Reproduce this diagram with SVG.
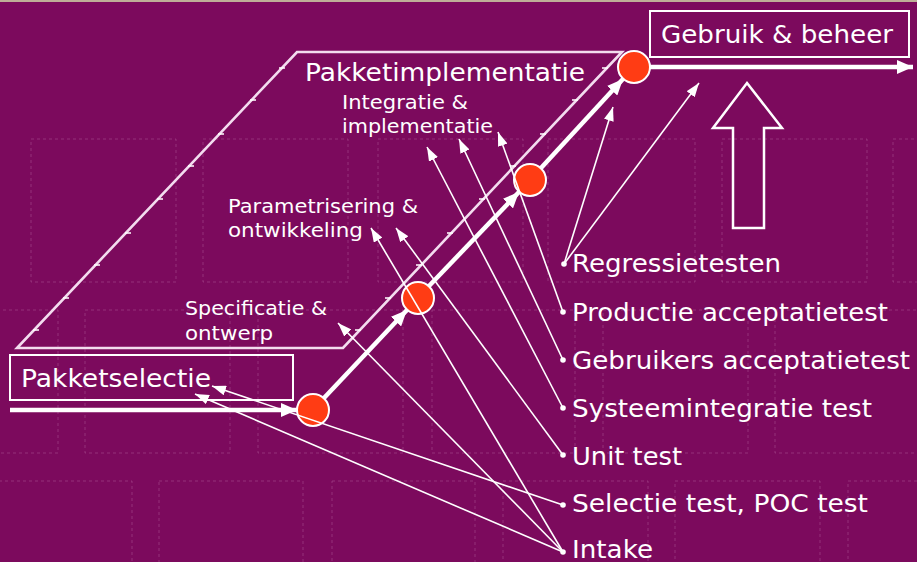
<svg xmlns="http://www.w3.org/2000/svg" width="917" height="562" viewBox="0 0 917 562">
<defs>
<style>
.bg-grid rect{fill:none;stroke:#c070a8;stroke-opacity:0.38;stroke-width:1;stroke-dasharray:3 3}
.t{font-family:"DejaVu Sans","Liberation Sans",sans-serif;fill:#ffffff}
.big{font-size:25px}
.small{font-size:20px}
.box{fill:none;stroke:#ffffff;stroke-width:2}
.dot{fill:#ff3c14;stroke:#ffffff;stroke-width:2}
.thick{stroke:#ffffff;stroke-width:4.5;fill:none}
.thin{stroke:#ffffff;stroke-width:1.6;fill:none}
.para{fill:none;stroke:#f3dcef;stroke-width:2.6;stroke-linejoin:miter}
.tick{stroke:#ffffff;stroke-width:1.5}
.bullet{fill:#ffffff}
</style>
<marker id="ah" markerUnits="userSpaceOnUse" markerWidth="14" markerHeight="10" refX="14" refY="5" orient="auto">
<path d="M0,0 L14,5 L0,10 z" fill="#ffffff"/>
</marker>
<marker id="ahb" markerUnits="userSpaceOnUse" markerWidth="16" markerHeight="14" refX="16" refY="7" orient="auto">
<path d="M0,0 L16,7 L0,14 z" fill="#ffffff"/>
</marker>
</defs>

<rect width="917" height="562" fill="#7c0a5d"/>
<rect width="917" height="2" fill="#bfae98"/>

<g class="bg-grid">
<rect x="31" y="139" width="145" height="143"/>
<rect x="203" y="139" width="145" height="143"/>
<rect x="378" y="139" width="145" height="143"/>
<rect x="548" y="139" width="147" height="143"/>
<rect x="722" y="139" width="145" height="143"/>
<rect x="893" y="139" width="145" height="143"/>
<rect x="-87" y="310" width="145" height="143"/>
<rect x="85" y="310" width="145" height="143"/>
<rect x="258" y="310" width="145" height="143"/>
<rect x="432" y="310" width="143" height="143"/>
<rect x="603" y="310" width="145" height="143"/>
<rect x="775" y="310" width="145" height="143"/>
<rect x="-13" y="481" width="145" height="143"/>
<rect x="159" y="481" width="144" height="143"/>
<rect x="332" y="481" width="143" height="143"/>
<rect x="503" y="481" width="145" height="143"/>
<rect x="675" y="481" width="145" height="143"/>
<rect x="848" y="481" width="145" height="143"/>
</g>

<g id="node-pakketimplementatie">
<polygon class="para" points="297,52 622,52 343,348 17,348"/>
<path class="tick" d="M279,68h6 M250,100h6 M218,134h6 M188,166h6 M157,199h6 M125,233h6 M94,265h6 M63,298h6 M33,330h6 M602,68h6 M572,100h6 M540,134h6 M510,166h6 M479,199h6 M447,233h6 M416,265h6 M385,298h6 M355,330h6"/>
<text class="t big" x="305" y="81" textLength="280" lengthAdjust="spacingAndGlyphs">Pakketimplementatie</text>
</g>

<g id="node-pakketselectie">
<rect class="box" x="10" y="355" width="283" height="45"/>
<text class="t big" x="21" y="387" textLength="190" lengthAdjust="spacingAndGlyphs">Pakketselectie</text>
</g>

<g id="node-gebruik-beheer">
<rect class="box" x="650" y="11" width="259" height="46"/>
<text class="t big" x="661" y="43" textLength="232" lengthAdjust="spacingAndGlyphs">Gebruik &amp; beheer</text>
<polygon points="747,83 782,128 764,128 764,228 733,228 733,128 713,128" fill="none" stroke="#ffffff" stroke-width="2.5"/>
</g>

<g id="label-specificatie">
<text class="t small" x="185" y="315" textLength="142" lengthAdjust="spacingAndGlyphs">Specificatie &amp;</text>
<text class="t small" x="185" y="340" textLength="88" lengthAdjust="spacingAndGlyphs">ontwerp</text>
</g>
<g id="label-parametrisering">
<text class="t small" x="228" y="213" textLength="190" lengthAdjust="spacingAndGlyphs">Parametrisering &amp;</text>
<text class="t small" x="228" y="237" textLength="135" lengthAdjust="spacingAndGlyphs">ontwikkeling</text>
</g>
<g id="label-integratie">
<text class="t small" x="342" y="109" textLength="126" lengthAdjust="spacingAndGlyphs">Integratie &amp;</text>
<text class="t small" x="342" y="133" textLength="151" lengthAdjust="spacingAndGlyphs">implementatie</text>
</g>

<g id="milestone-1"><circle class="dot" cx="313" cy="410" r="16"/></g>
<g id="milestone-2"><circle class="dot" cx="418" cy="298" r="16"/></g>
<g id="milestone-3"><circle class="dot" cx="530" cy="180" r="16"/></g>
<g id="milestone-4"><circle class="dot" cx="634" cy="67" r="16"/></g>

<g id="test-regressietesten"><circle class="bullet" cx="564" cy="264" r="2.8"/><text class="t big" x="572" y="272" textLength="209" lengthAdjust="spacingAndGlyphs">Regressietesten</text></g>
<g id="test-productie"><circle class="bullet" cx="563" cy="312" r="2.8"/><text class="t big" x="572" y="321" textLength="316" lengthAdjust="spacingAndGlyphs">Productie acceptatietest</text></g>
<g id="test-gebruikers"><circle class="bullet" cx="563" cy="360" r="2.8"/><text class="t big" x="572" y="369" textLength="338" lengthAdjust="spacingAndGlyphs">Gebruikers acceptatietest</text></g>
<g id="test-systeemintegratie"><circle class="bullet" cx="563" cy="408" r="2.8"/><text class="t big" x="572" y="417" textLength="300" lengthAdjust="spacingAndGlyphs">Systeemintegratie test</text></g>
<g id="test-unit"><circle class="bullet" cx="563" cy="455" r="2.8"/><text class="t big" x="572" y="465" textLength="110" lengthAdjust="spacingAndGlyphs">Unit test</text></g>
<g id="test-selectie"><circle class="bullet" cx="563" cy="505" r="2.8"/><text class="t big" x="572" y="512" textLength="296" lengthAdjust="spacingAndGlyphs">Selectie test, POC test</text></g>
<g id="test-intake"><circle class="bullet" cx="563" cy="552" r="2.8"/><text class="t big" x="572" y="558" textLength="81" lengthAdjust="spacingAndGlyphs">Intake</text></g>

<g id="connectors">
<path class="thick" d="M10,410 L297,410" marker-end="url(#ahb)"/>
<path class="thick" d="M324,398 L407,310" marker-end="url(#ahb)"/>
<path class="thick" d="M429,286 L519,192" marker-end="url(#ahb)"/>
<path class="thick" d="M541,168 L623,79" marker-end="url(#ahb)"/>
<path class="thick" d="M650,67 L913,67" marker-end="url(#ahb)"/>
<path class="thin" d="M564,264 L613,107" marker-end="url(#ah)"/>
<path class="thin" d="M564,264 L699,83" marker-end="url(#ah)"/>
<path class="thin" d="M563,312 L498,132" marker-end="url(#ah)"/>
<path class="thin" d="M563,360 L459,139" marker-end="url(#ah)"/>
<path class="thin" d="M563,408 L427,147" marker-end="url(#ah)"/>
<path class="thin" d="M563,455 L396,228" marker-end="url(#ah)"/>
<path class="thin" d="M563,505 L212,386" marker-end="url(#ah)"/>
<path class="thin" d="M563,552 L371,228" marker-end="url(#ah)"/>
<path class="thin" d="M563,552 L338,323" marker-end="url(#ah)"/>
<path class="thin" d="M563,552 L195,394" marker-end="url(#ah)"/>
</g>
</svg>
